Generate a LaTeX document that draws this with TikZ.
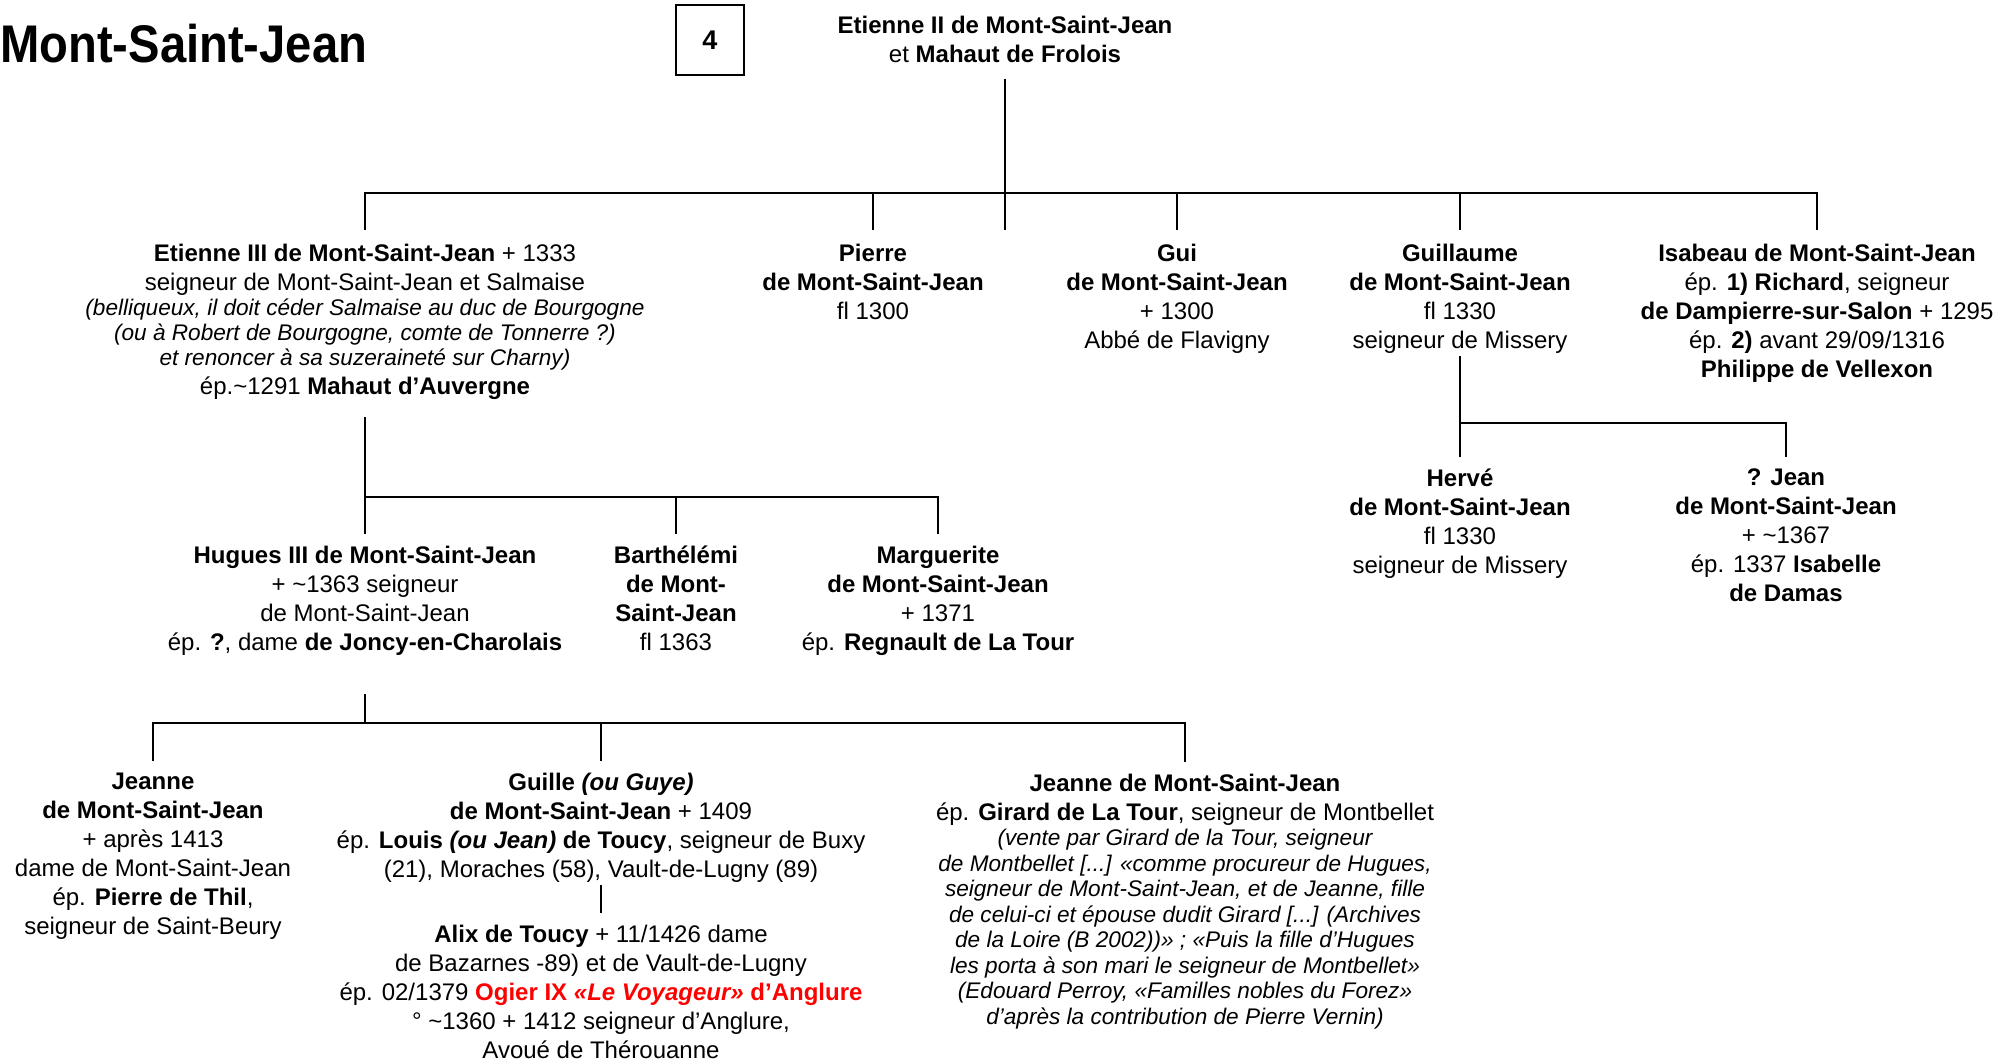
\documentclass[tikz,border=0pt]{standalone}
\usepackage{fontspec}
\setmainfont{Liberation Sans}
\newfontfamily\titlefont[FakeStretch=0.89]{Liberation Sans}
\definecolor{anglure}{RGB}{255,0,0}
\newcommand{\remark}[1]{{\fontsize{22.6}{25}\selectfont\itshape #1}}

\begin{document}
\begin{tikzpicture}[x=1pt,y=-1pt,
    person/.style={align=center,anchor=north,inner sep=0pt,font=\fontsize{24}{29}\selectfont},
    kinbar/.style={line width=2.6pt,line cap=rect},
    kinline/.style={line width=1.8pt}]
  \useasboundingbox (0,0) rectangle (2003,1060);
  \node[anchor=west,inner sep=0pt,font=\titlefont\bfseries\fontsize{53}{60}\selectfont] (title) at (0,44) {Mont-Saint-Jean};
  \node[draw,line width=1.2pt,minimum width=68pt,minimum height=70pt,font=\bfseries\fontsize{27}{32}\selectfont] (num) at (710,40) {4};

  % parents
  \node[person] (couple) at (1005,16) {\textbf{Etienne II de Mont-Saint-Jean}\\ et \textbf{Mahaut de Frolois}};

  % first generation
  \node[person] (etienne3) at (365,244) {\textbf{Etienne III de Mont-Saint-Jean} + 1333\\
    seigneur de Mont-Saint-Jean et Salmaise\\[-4pt]
    \remark{(belliqueux, il doit céder Salmaise au duc de Bourgogne}\\[-4pt]
    \remark{(ou à Robert de Bourgogne, comte de Tonnerre ?)}\\[-4pt]
    \remark{et renoncer à sa suzeraineté sur Charny)}\\
    ép.\textasciitilde1291 \textbf{Mahaut d’Auvergne}};
  \node[person] (pierre) at (873,244) {\textbf{Pierre}\\ \textbf{de Mont-Saint-Jean}\\ fl 1300};
  \node[person] (gui) at (1177,244) {\textbf{Gui}\\ \textbf{de Mont-Saint-Jean}\\ + 1300\\ Abbé de Flavigny};
  \node[person] (guillaume) at (1460,244) {\textbf{Guillaume}\\ \textbf{de Mont-Saint-Jean}\\ fl 1330\\ seigneur de Missery};
  \node[person] (isabeau) at (1817,244) {\textbf{Isabeau de Mont-Saint-Jean}\\
    ép. \textbf{1) Richard}, seigneur\\
    \textbf{de Dampierre-sur-Salon} + 1295\\
    ép. \textbf{2)} avant 29/09/1316\\
    \textbf{Philippe de Vellexon}};

  % second generation
  \node[person] (hugues) at (365,546) {\textbf{Hugues III de Mont-Saint-Jean}\\ + \textasciitilde1363 seigneur\\ de Mont-Saint-Jean\\ ép. \textbf{?}, dame \textbf{de Joncy-en-Charolais}};
  \node[person] (barthelemi) at (676,546) {\textbf{Barthélémi}\\ \textbf{de Mont-}\\ \textbf{Saint-Jean}\\ fl 1363};
  \node[person] (marguerite) at (938,546) {\textbf{Marguerite}\\ \textbf{de Mont-Saint-Jean}\\ + 1371\\ ép. \textbf{Regnault de La Tour}};
  \node[person] (herve) at (1460,469) {\textbf{Hervé}\\ \textbf{de Mont-Saint-Jean}\\ fl 1330\\ seigneur de Missery};
  \node[person] (jean) at (1786,469) {\textbf{? Jean}\\ \textbf{de Mont-Saint-Jean}\\ + \textasciitilde1367\\ ép. 1337 \textbf{Isabelle}\\ \textbf{de Damas}};

  % third generation
  \node[person] (jeanne) at (153,773) {\textbf{Jeanne}\\ \textbf{de Mont-Saint-Jean}\\ + après 1413\\ dame de Mont-Saint-Jean\\ ép. \textbf{Pierre de Thil},\\ seigneur de Saint-Beury};
  \node[person] (guille) at (601,773) {\textbf{Guille \textit{(ou Guye)}}\\
    \textbf{de Mont-Saint-Jean} + 1409\\
    ép. \textbf{Louis \textit{(ou Jean)} de Toucy}, seigneur de Buxy\\
    (21), Moraches (58), Vault-de-Lugny (89)};
  \node[person] (alix) at (601,925) {\textbf{Alix de Toucy} + 11/1426 dame\\
    de Bazarnes -89) et de Vault-de-Lugny\\
    ép. 02/1379 \textcolor{anglure}{\textbf{Ogier IX \textit{«Le Voyageur»} d’Anglure}}\\
    ° \textasciitilde1360 + 1412 seigneur d’Anglure,\\
    Avoué de Thérouanne};
  \node[person] (jeanne2) at (1185,774) {\textbf{Jeanne de Mont-Saint-Jean}\\
    ép. \textbf{Girard de La Tour}, seigneur de Montbellet\\[-4pt]
    \remark{(vente par Girard de la Tour, seigneur}\\[-3.5pt]
    \remark{de Montbellet [...] «comme procureur de Hugues,}\\[-3.5pt]
    \remark{seigneur de Mont-Saint-Jean, et de Jeanne, fille}\\[-3.5pt]
    \remark{de celui-ci et épouse dudit Girard [...] (Archives}\\[-3.5pt]
    \remark{de la Loire (B 2002))» ; «Puis la fille d’Hugues}\\[-3.5pt]
    \remark{les porta à son mari le seigneur de Montbellet»}\\[-3.5pt]
    \remark{(Edouard Perroy, «Familles nobles du Forez»}\\[-3.5pt]
    \remark{d’après la contribution de Pierre Vernin)}};

  % lines
  \coordinate (b1) at (1005,193);
  \draw[kinline] ([yshift=-16pt]couple.south) -- (b1) -- ++(0,37);
  \draw[kinbar] (b1 -| etienne3.north) -- (b1 -| isabeau.north);
  \foreach \n in {etienne3,pierre,gui,guillaume,isabeau}
    \draw[kinline] (b1 -| \n.north) -- ([yshift=14pt]\n.north);

  \coordinate (b2) at (365,497);
  \draw[kinline] ([yshift=-17.5pt]etienne3.south) -- (b2);
  \draw[kinbar] (b2 -| hugues.north) -- (b2 -| marguerite.north);
  \foreach \n in {hugues,barthelemi,marguerite}
    \draw[kinline] (b2 -| \n.north) -- ([yshift=12pt]\n.north);

  \coordinate (b4) at (1460,423);
  \draw[kinline] ([yshift=-2pt]guillaume.south) -- (b4);
  \draw[kinbar] (b4 -| herve.north) -- (b4 -| jean.north);
  \foreach \n in {herve,jean}
    \draw[kinline] (b4 -| \n.north) -- ([yshift=12pt]\n.north);

  \coordinate (b3) at (365,723);
  \draw[kinline] ([yshift=-38.5pt]hugues.south) -- (b3);
  \draw[kinbar] (b3 -| jeanne.north) -- (b3 -| jeanne2.north);
  \foreach \n in {jeanne,guille,jeanne2}
    \draw[kinline] (b3 -| \n.north) -- ([yshift=12pt]\n.north);

  \draw[kinline] ([yshift=-2.5pt]guille.south) -- ([yshift=12pt]alix.north);
\end{tikzpicture}
\end{document}
